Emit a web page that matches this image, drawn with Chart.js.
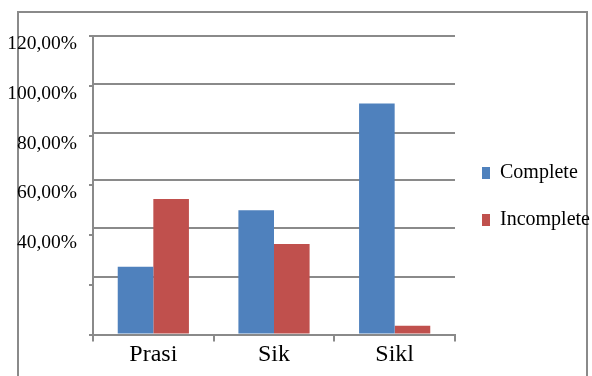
<!DOCTYPE html>
<html>
<head>
<meta charset="utf-8">
<script src="https://cdn.jsdelivr.net/npm/chart.js@4/dist/chart.umd.min.js"></script>
<style>
  html, body { margin: 0; padding: 0; background: #ffffff; }
  canvas { display: block; }
</style>
</head>
<body>
<canvas id="chart" width="592" height="376"></canvas>
<script>
// Categories and series (percent)
const categories = ['Prasi', 'Sik', 'Sikl'];
const completeValues = [27.3, 50.0, 92.9];
const incompleteValues = [54.5, 36.4, 3.6];
const seriesNames = ['Complete', 'Incomplete'];
// Value axis ticks; only some of them carry a printed label
const yTickValues = [0, 20, 40, 60, 80, 100, 120];
const yLabelledValues = [40, 60, 80, 100, 120];
// Levels at which the horizontal grid lines run
const gridLevels = [23.2, 42.8, 62.0, 81.2, 100.8, 120];

const GRAY = '#8a8a8a';
const SERIF = '"Liberation Serif", "Times New Roman", serif';

const fmtPct = v => v.toFixed(2).replace('.', ',') + '%';

const frame = {
  id: 'frame',
  beforeDraw(chart) {
    const ctx = chart.ctx;
    ctx.save();
    ctx.fillStyle = '#ffffff';
    ctx.fillRect(0, 0, chart.width, chart.height);
    ctx.strokeStyle = GRAY;
    ctx.lineWidth = 2;
    ctx.strokeRect(18, 12, 569, 420);
    ctx.restore();
  }
};

new Chart(document.getElementById('chart'), {
  type: 'bar',
  data: {
    labels: categories,
    datasets: [
      { label: seriesNames[0], data: completeValues, backgroundColor: '#4f81bd', borderWidth: 0 },
      { label: seriesNames[1], data: incompleteValues, backgroundColor: '#c0504d', borderWidth: 0 }
    ]
  },
  options: {
    responsive: false,
    animation: false,
    devicePixelRatio: 1,
    layout: { padding: { left: 7, right: 0, top: 25, bottom: 8 } },
    datasets: { bar: { categoryPercentage: 0.59, barPercentage: 1.0 } },
    plugins: {
      tooltip: { enabled: false },
      // blank spacer above the plot area only
      title: {
        display: true,
        text: ' ',
        fullSize: false,
        padding: 0,
        font: { size: 11, lineHeight: 1 }
      },
      legend: {
        position: 'right',
        align: 'center',
        maxWidth: 137,
        labels: {
          boxWidth: 8,
          boxHeight: 12,
          padding: 27,
          color: '#000000',
          font: { family: SERIF, size: 20 }
        }
      }
    },
    scales: {
      x: {
        grid: { display: true, drawOnChartArea: false, drawTicks: true, tickLength: 7, color: GRAY, lineWidth: 2, offset: true },
        border: { display: true, color: GRAY, width: 2 },
        ticks: { color: '#000000', padding: 0, font: { family: SERIF, size: 24, lineHeight: 1.1 } }
      },
      y: {
        position: 'left',
        min: 0,
        max: 120,
        afterBuildTicks: axis => { axis.ticks = yTickValues.map(v => ({ value: v })); },
        afterFit: axis => { axis.width = 86; },
        grid: { display: true, drawOnChartArea: false, drawTicks: true, tickLength: 4, color: GRAY, lineWidth: 2 },
        border: { display: true, color: GRAY, width: 2 },
        ticks: {
          color: '#000000',
          padding: 12,
          labelOffset: 8,
          font: { family: SERIF, size: 19.5 },
          callback: v => (yLabelledValues.includes(v) ? fmtPct(v) : '')
        }
      },
      yGrid: {
        position: 'right',
        min: 0,
        max: 120,
        afterBuildTicks: axis => { axis.ticks = gridLevels.map(v => ({ value: v })); },
        grid: { display: true, drawOnChartArea: true, drawTicks: false, color: GRAY, lineWidth: 2 },
        border: { display: false },
        ticks: { display: false }
      }
    }
  },
  plugins: [frame]
});
</script>
</body>
</html>
